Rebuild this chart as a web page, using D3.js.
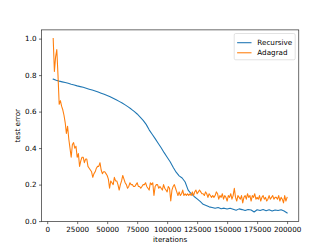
<!DOCTYPE html>
<html>
<head>
<meta charset="utf-8">
<script src="https://cdn.jsdelivr.net/npm/d3@7"></script>
<style>
  body { margin: 0; background: #fff; }
  text { font-family: "DejaVu Sans", sans-serif; fill: #000; }
</style>
</head>
<body>
<div id="chart"></div>
<script>
// series names
var seriesNames = ["Recursive", "Adagrad"];

// Recursive: logged every 2500 iterations from 5000 to 200000
var recursiveIters = d3.range(5000, 200001, 2500);
var recursiveError = [
  0.778, 0.772, 0.767, 0.763, 0.759, 0.755, 0.750, 0.746,
  0.741, 0.737, 0.733, 0.728, 0.723, 0.718, 0.713, 0.707,
  0.701, 0.695, 0.688, 0.681, 0.673, 0.665, 0.656, 0.647,
  0.637, 0.626, 0.614, 0.601, 0.587, 0.570, 0.552, 0.530,
  0.500, 0.476, 0.452, 0.427, 0.402, 0.375, 0.350, 0.325,
  0.295, 0.268, 0.248, 0.236, 0.214, 0.170, 0.150, 0.135,
  0.122, 0.108, 0.092, 0.085, 0.078, 0.075, 0.070, 0.074,
  0.068, 0.071, 0.066, 0.070, 0.065, 0.060, 0.067, 0.063,
  0.058, 0.064, 0.061, 0.050, 0.062, 0.058, 0.063, 0.057,
  0.062, 0.055, 0.061, 0.058, 0.062, 0.055, 0.045
];

// Adagrad: logged every 1000 iterations from 5000 to 200000
var adagradIters = d3.range(5000, 200001, 1000);
var adagradError = [
  1.00, 0.82, 0.90, 0.94, 0.80, 0.64, 0.66, 0.63, 0.61, 0.58,
  0.54, 0.48, 0.52, 0.45, 0.40, 0.35, 0.42, 0.43, 0.40, 0.41,
  0.35, 0.37, 0.30, 0.33, 0.35, 0.35, 0.32, 0.34, 0.34, 0.30,
  0.29, 0.28, 0.27, 0.24, 0.26, 0.27, 0.29, 0.30, 0.30, 0.32,
  0.28, 0.26, 0.27, 0.27, 0.26, 0.25, 0.23, 0.18, 0.22, 0.21,
  0.20, 0.24, 0.22, 0.22, 0.20, 0.17, 0.20, 0.22, 0.25, 0.23,
  0.21, 0.20, 0.18, 0.19, 0.21, 0.20, 0.20, 0.19, 0.19, 0.20,
  0.21, 0.19, 0.19, 0.18, 0.19, 0.20, 0.20, 0.21, 0.19, 0.18,
  0.17, 0.21, 0.20, 0.21, 0.14, 0.19, 0.20, 0.20, 0.18, 0.19,
  0.18, 0.17, 0.20, 0.18, 0.17, 0.16, 0.19, 0.18, 0.11, 0.17,
  0.19, 0.20, 0.18, 0.16, 0.14, 0.16, 0.14, 0.15, 0.17, 0.14,
  0.15, 0.14, 0.15, 0.14, 0.15, 0.14, 0.16, 0.14, 0.16, 0.17,
  0.15, 0.16, 0.17, 0.16, 0.15, 0.15, 0.14, 0.16, 0.15, 0.13,
  0.15, 0.14, 0.13, 0.14, 0.13, 0.14, 0.16, 0.15, 0.12, 0.14,
  0.13, 0.15, 0.12, 0.14, 0.13, 0.11, 0.14, 0.13, 0.15, 0.12,
  0.14, 0.18, 0.13, 0.11, 0.14, 0.13, 0.12, 0.14, 0.10, 0.13,
  0.14, 0.12, 0.15, 0.13, 0.14, 0.11, 0.14, 0.13, 0.15, 0.12,
  0.13, 0.12, 0.14, 0.11, 0.13, 0.14, 0.12, 0.13, 0.11, 0.12,
  0.14, 0.12, 0.13, 0.14, 0.12, 0.13, 0.13, 0.12, 0.14, 0.11,
  0.13, 0.12, 0.10, 0.14, 0.11, 0.13
];

// tick values
var xTicks = [0, 25000, 50000, 75000, 100000, 125000, 150000, 175000, 200000];
var yTicks = [0.0, 0.2, 0.4, 0.6, 0.8, 1.0];

var colors = ["#1f77b4", "#ff7f0e"];

var svgWidth = 332;
var svgHeight = 249;
var fontSize = 7.2;

// matplotlib default subplot box
var margin = { top: 29.9, right: 33.2, bottom: 27.4, left: 41.5 };
var width = svgWidth - margin.left - margin.right;
var height = svgHeight - margin.top - margin.bottom;

var series = [
  { name: seriesNames[0], x: recursiveIters, y: recursiveError, color: colors[0] },
  { name: seriesNames[1], x: adagradIters, y: adagradError, color: colors[1] }
];

// autoscale with 5% margins like matplotlib
var allX = recursiveIters.concat(adagradIters);
var allY = recursiveError.concat(adagradError);
var xMin = d3.min(allX), xMax = d3.max(allX);
var yMin = d3.min(allY), yMax = d3.max(allY);
var xPad = (xMax - xMin) * 0.05;
var yPad = (yMax - yMin) * 0.05;

var xScale = d3.scaleLinear()
  .domain([xMin - xPad, xMax + xPad])
  .range([0, width]);

var yScale = d3.scaleLinear()
  .domain([yMin - yPad, yMax + yPad])
  .range([height, 0]);

var svg = d3.select("#chart")
  .append("svg")
  .attr("width", svgWidth)
  .attr("height", svgHeight);

var chartGroup = svg.append("g")
  .attr("transform", `translate(${margin.left}, ${margin.top})`);

// clip lines to the axes box
chartGroup.append("clipPath")
  .attr("id", "clip")
  .append("rect")
  .attr("width", width)
  .attr("height", height);

// lines
var line = d3.line()
  .x(d => xScale(d[0]))
  .y(d => yScale(d[1]));

series.forEach(function(s) {
  chartGroup.append("path")
    .datum(s.x.map((v, i) => [v, s.y[i]]))
    .attr("clip-path", "url(#clip)")
    .attr("fill", "none")
    .attr("stroke", s.color)
    .attr("stroke-width", 1.08)
    .attr("stroke-linejoin", "round")
    .attr("stroke-linecap", "square")
    .attr("d", line);
});

// axes
var xAxis = d3.axisBottom(xScale)
  .tickValues(xTicks)
  .tickFormat(d3.format("d"))
  .tickSizeInner(2.5)
  .tickSizeOuter(0)
  .tickPadding(2.5);

var yAxis = d3.axisLeft(yScale)
  .tickValues(yTicks)
  .tickFormat(d3.format(".1f"))
  .tickSizeInner(2.5)
  .tickSizeOuter(0)
  .tickPadding(2.5);

var gx = chartGroup.append("g")
  .attr("transform", `translate(0, ${height})`)
  .call(xAxis);

var gy = chartGroup.append("g")
  .call(yAxis);

[gx, gy].forEach(function(g) {
  g.select(".domain").remove();
  g.selectAll(".tick line").attr("stroke", "#000").attr("stroke-width", 0.58);
  g.selectAll(".tick text")
    .attr("font-size", fontSize)
    .attr("font-family", "DejaVu Sans")
    .attr("fill", "#000");
});
gx.selectAll(".tick text").attr("dy", "0.76em");

// spines
chartGroup.append("rect")
  .attr("width", width)
  .attr("height", height)
  .attr("fill", "none")
  .attr("stroke", "#000")
  .attr("stroke-width", 0.58);

// axis labels
chartGroup.append("text")
  .attr("x", width / 2)
  .attr("y", height + 20.5)
  .attr("text-anchor", "middle")
  .attr("font-size", fontSize)
  .text("iterations");

chartGroup.append("text")
  .attr("transform", "rotate(-90)")
  .attr("x", -height / 2)
  .attr("y", -22)
  .attr("text-anchor", "middle")
  .attr("font-size", fontSize)
  .text("test error");

// legend (upper right)
var legend = chartGroup.append("g");
var legendBox = legend.append("rect")
  .attr("fill", "#fff")
  .attr("fill-opacity", 0.8)
  .attr("stroke", "#cccccc")
  .attr("stroke-width", 0.58)
  .attr("rx", 1.5);

var rowH = fontSize * 1.4;
var labels = [];
series.forEach(function(s, i) {
  var yy = 5.6 + fontSize / 2 + i * rowH;
  legend.append("line")
    .attr("x1", 2.9)
    .attr("x2", 2.9 + 14.4)
    .attr("y1", yy)
    .attr("y2", yy)
    .attr("stroke", s.color)
    .attr("stroke-width", 1.08);
  labels.push(legend.append("text")
    .attr("x", 2.9 + 14.4 + 5.8)
    .attr("y", yy)
    .attr("dy", "0.35em")
    .attr("font-size", fontSize)
    .text(s.name));
});

var textW = d3.max(labels, t => t.node().getComputedTextLength());
var boxW = 2.9 + 14.4 + 5.8 + textW + 2.9;
var boxH = 5.6 + fontSize + rowH + 3.4;
legendBox.attr("width", boxW).attr("height", boxH);
legend.attr("transform", `translate(${width - 3.6 - boxW}, 3.6)`);
</script>
</body>
</html>
